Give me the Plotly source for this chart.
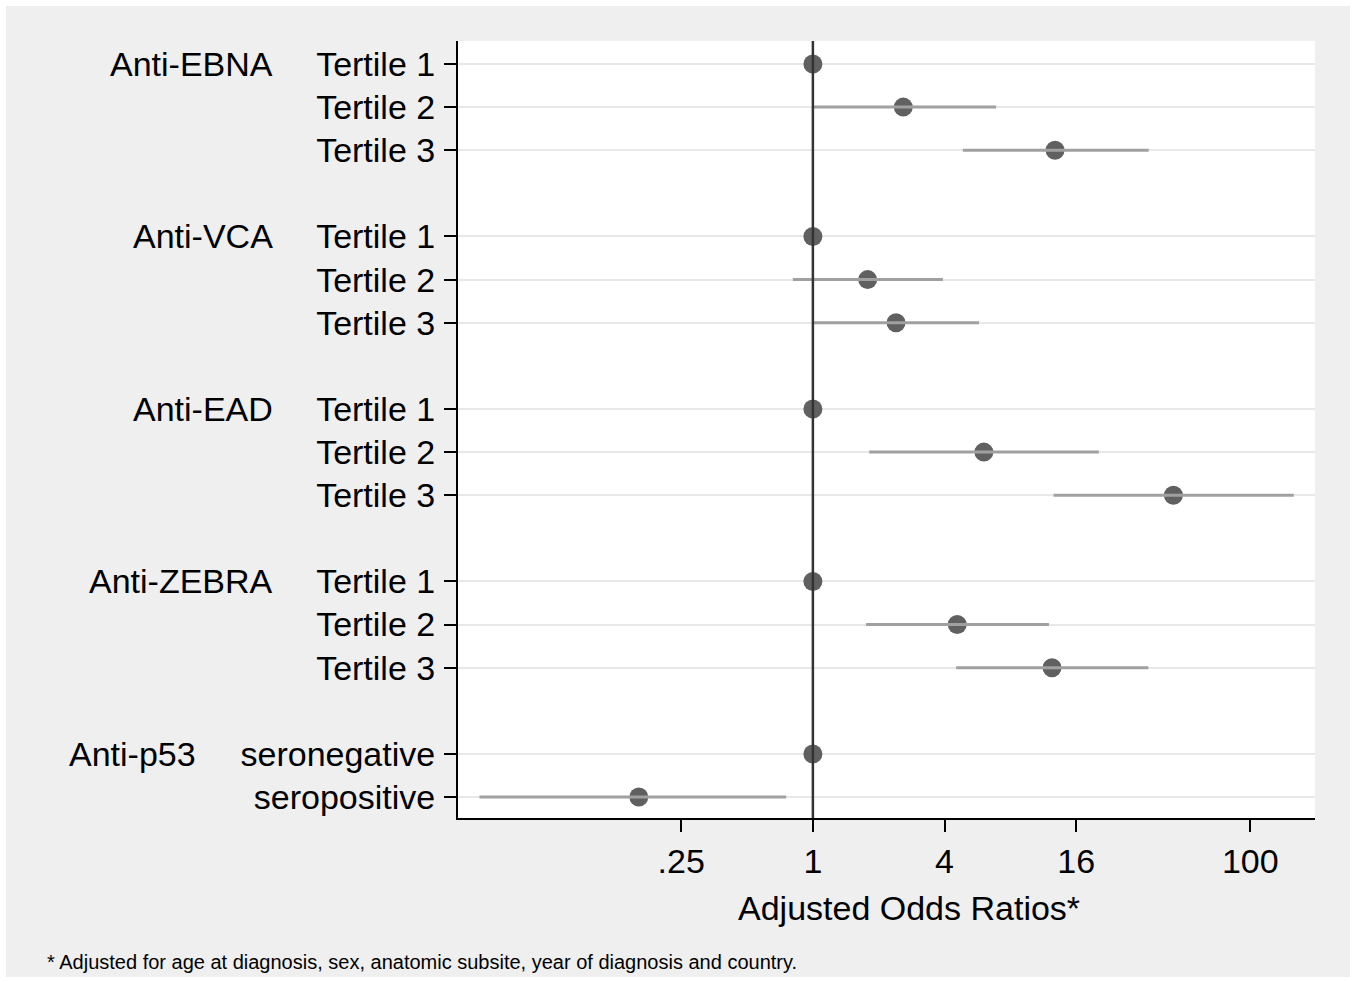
import plotly.graph_objects as go

# ---- data ----
groups = ["Anti-EBNA", "Anti-VCA", "Anti-EAD", "Anti-ZEBRA", "Anti-p53"]
row_labels = ["Tertile 1", "Tertile 2", "Tertile 3",
              "Tertile 1", "Tertile 2", "Tertile 3",
              "Tertile 1", "Tertile 2", "Tertile 3",
              "Tertile 1", "Tertile 2", "Tertile 3",
              "seronegative", "seropositive"]
row_group = [0, 0, 0, 1, 1, 1, 2, 2, 2, 3, 3, 3, 4, 4]
odds = [1, 2.59, 12.8,
        1, 1.78, 2.40,
        1, 6.05, 44.5,
        1, 4.57, 12.4,
        1, 0.160]
ci_low = [None, 1.00, 4.85,
          None, 0.81, 1.01,
          None, 1.81, 12.6,
          None, 1.75, 4.52,
          None, 0.0299]
ci_high = [None, 6.88, 34.3,
           None, 3.93, 5.75,
           None, 20.3, 158,
           None, 12.0, 34.2,
           None, 0.755]
x_ticks = [0.25, 1, 4, 16, 100]
x_ticktext = [".25", "1", "4", "16", "100"]

# row positions: each group followed by an empty spacer row
ypos = []
pos = 0
prev = row_group[0]
for g in row_group:
    if g != prev:
        pos += 1
        prev = g
    ypos.append(pos)
    pos += 1

FONT = "Liberation Sans, Arial, sans-serif"
FS = 34
ymin, ymax = -0.533, 17.485

fig = go.Figure()

# markers
fig.add_trace(go.Scatter(
    x=odds, y=ypos, mode="markers",
    marker=dict(size=19, color="#606060"),
    showlegend=False, hoverinfo="skip"))

# confidence intervals (drawn on top of markers, as in the original)
cx, cy = [], []
for lo, hi, y in zip(ci_low, ci_high, ypos):
    if lo is None:
        continue
    cx += [lo, hi, None]
    cy += [y, y, None]
fig.add_trace(go.Scatter(
    x=cx, y=cy, mode="lines",
    line=dict(color="#a0a0a0", width=3),
    showlegend=False, hoverinfo="skip"))

# reference line at OR = 1
fig.add_trace(go.Scatter(
    x=[1, 1], y=[ymin, ymax], mode="lines",
    line=dict(color="#333333", width=2.5),
    showlegend=False, hoverinfo="skip", cliponaxis=False))

# group labels
group_first_row = {}
for g, y in zip(row_group, ypos):
    group_first_row.setdefault(g, y)
annotations = []
for gi, name in enumerate(groups):
    xr = -0.2135 if gi < 4 else -0.3034
    annotations.append(dict(
        x=xr, xref="paper", y=group_first_row[gi], yref="y",
        text=name, showarrow=False, xanchor="right", yanchor="middle",
        font=dict(family=FONT, size=FS, color="black")))
# x-axis title (placed as in the original, slightly right of centre)
annotations.append(dict(
    x=(909 - 458) / 857, xref="paper", y=(818 - 908) / 777, yref="paper",
    text="Adjusted Odds Ratios*", showarrow=False,
    xanchor="center", yanchor="middle",
    font=dict(family=FONT, size=FS, color="black")))
annotations.append(dict(
    x=-0.4814, xref="paper", y=-0.1851, yref="paper",
    text="* Adjusted for age at diagnosis, sex, anatomic subsite, year of diagnosis and country.",
    showarrow=False, xanchor="left", yanchor="middle",
    font=dict(family=FONT, size=20, color="black")))

shapes = [
    dict(type="rect", xref="paper", yref="paper",
         x0=-0.5274, x1=1.0408, y0=-0.2046, y1=1.0450,
         fillcolor="#efefef", line=dict(width=0), layer="below"),
    dict(type="rect", xref="paper", yref="paper",
         x0=0, x1=1, y0=0, y1=1,
         fillcolor="white", line=dict(width=0), layer="below"),
]

fig.update_layout(
    width=1357, height=982,
    margin=dict(l=458, r=42, t=41, b=164),
    paper_bgcolor="white", plot_bgcolor="white",
    font=dict(family=FONT, size=FS, color="black"),
    annotations=annotations, shapes=shapes,
    xaxis=dict(
        type="log", range=[-1.6225, 2.2957],
        tickvals=x_ticks, ticktext=x_ticktext,
        showgrid=False, zeroline=False,
        showline=True, linecolor="black", linewidth=2,
        ticks="outside", ticklen=12, tickwidth=2, tickcolor="black",
        tickfont=dict(family=FONT, size=FS, color="black"),
    ),
    yaxis=dict(
        range=[ymax, ymin],
        tickvals=ypos, ticktext=row_labels,
        showgrid=True, gridcolor="#e8e8e8", gridwidth=2,
        zeroline=False,
        showline=True, linecolor="black", linewidth=2,
        ticks="outside", ticklen=12, tickwidth=2, tickcolor="black",
        ticklabelstandoff=2,
        tickfont=dict(family=FONT, size=FS, color="black"),
    ),
)

fig.write_html("out.html",
               config={"displayModeBar": False},
               post_script="document.body.style.margin='0';document.body.style.overflow='hidden';")
